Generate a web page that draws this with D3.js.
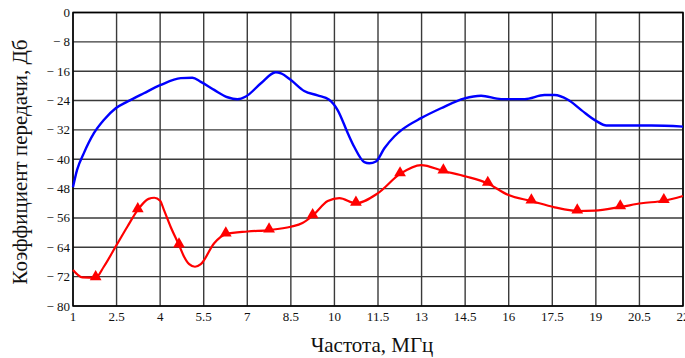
<!DOCTYPE html>
<html>
<head>
<meta charset="utf-8">
<script src="https://cdn.jsdelivr.net/npm/d3@7"></script>
<style>
  html, body { margin: 0; padding: 0; background: #fff; }
  svg { display: block; }
</style>
</head>
<body>
<svg id="chart" width="685" height="358"></svg>
<script>
// Frequency ticks (MHz) and gain ticks (dB)
const xTicks = [1, 2.5, 4, 5.5, 7, 8.5, 10, 11.5, 13, 14.5, 16, 17.5, 19, 20.5, 22];
const yTicks = [0, -8, -16, -24, -32, -40, -48, -56, -64, -72, -80];

// Upper curve (blue)
const blueFreq = [1.0, 1.14, 1.37, 1.72, 2.06, 2.47, 2.87, 3.44, 4.02, 4.71, 5.11, 5.40, 5.86, 6.32, 6.66, 6.95, 7.47, 7.98, 8.16, 8.5, 8.96, 9.42, 9.82, 10.11, 10.46, 10.68, 11.03, 11.2, 11.43, 11.72, 12.06, 12.35, 12.98, 13.67, 14.48, 15.05, 15.74, 16.55, 17.23, 17.58, 18.04, 18.5, 19.02, 19.36, 20.91, 22.0];
const blueGain = [-47.6, -42.9, -38.4, -32.9, -29.3, -26.1, -24.3, -22.0, -19.75, -17.9, -17.8, -18.9, -21.1, -23.1, -23.65, -22.9, -19.3, -16.3, -16.6, -18.4, -21.4, -22.6, -23.8, -26.6, -32.9, -36.6, -40.8, -41.1, -40.6, -37.0, -33.8, -31.8, -28.8, -26.1, -23.4, -22.7, -23.6, -23.6, -22.5, -22.5, -23.8, -26.6, -29.6, -30.8, -30.8, -31.1];

// Lower curve (red)
const redFreq = [1.0, 1.32, 1.78, 2.06, 2.47, 2.87, 3.23, 3.6, 3.8, 4.0, 4.13, 4.36, 4.65, 4.82, 5.0, 5.2, 5.40, 5.86, 6.26, 7.01, 7.75, 8.5, 8.9, 9.25, 9.77, 10.17, 10.74, 11.49, 12.26, 12.98, 13.75, 14.53, 15.28, 15.97, 16.78, 17.58, 18.36, 18.96, 19.84, 20.57, 21.34, 22.0];
const redGain = [-70.2, -72.2, -72.3, -69.3, -63.8, -58.4, -53.8, -50.8, -50.5, -51.3, -53.8, -58.4, -63.4, -66.5, -68.6, -69.3, -68.6, -62.9, -60.4, -59.7, -59.3, -58.4, -57.4, -55.4, -51.4, -50.6, -52.0, -49.3, -44.0, -41.6, -43.2, -44.7, -46.6, -49.7, -51.4, -53.1, -54.1, -54.0, -53.0, -52.0, -51.3, -50.0];

// Triangle markers placed on the red curve
const markerFreq = [1.78, 3.23, 4.65, 6.26, 7.75, 9.25, 10.74, 12.26, 13.75, 15.28, 16.78, 18.36, 19.84, 21.34];
const markerGain = [-72.3, -53.8, -63.4, -60.4, -59.3, -55.4, -52.0, -44.0, -43.2, -46.6, -51.4, -54.1, -53.0, -51.3];

const svg = d3.select("#chart");
const plotLeft = 73, plotRight = 683, plotTop = 12.5, plotBottom = 306;

const x = d3.scaleLinear().domain([1, 22]).range([plotLeft, plotRight]);
const y = d3.scaleLinear().domain([-80, 0]).range([plotBottom, plotTop]);

const serif = "'Liberation Serif', 'Times New Roman', serif";

// Grid
const grid = svg.append("g");
grid.selectAll("line.v").data(xTicks).join("line")
  .attr("x1", d => x(d)).attr("x2", d => x(d))
  .attr("y1", plotTop).attr("y2", plotBottom)
  .attr("stroke", "#3a3a3a").attr("stroke-width", 1.4);
grid.selectAll("line.h").data(yTicks).join("line")
  .attr("x1", plotLeft).attr("x2", plotRight)
  .attr("y1", d => y(d)).attr("y2", d => y(d))
  .attr("stroke", "#3a3a3a").attr("stroke-width", 1.4);

// Frame
svg.append("rect")
  .attr("x", plotLeft).attr("y", plotTop)
  .attr("width", plotRight - plotLeft).attr("height", plotBottom - plotTop)
  .attr("fill", "none").attr("stroke", "#000").attr("stroke-width", 1.5);

// Axes labels
const fmtY = d => d === 0 ? "0" : "\u2212 " + Math.abs(d);
svg.append("g").selectAll("text").data(yTicks).join("text")
  .attr("x", plotLeft - 3).attr("y", d => y(d) + 4.5)
  .attr("text-anchor", "end")
  .attr("font-family", serif).attr("font-size", 13)
  .attr("fill", "#111")
  .text(fmtY);

svg.append("g").selectAll("text").data(xTicks).join("text")
  .attr("x", d => x(d)).attr("y", 321)
  .attr("text-anchor", "middle")
  .attr("font-family", serif).attr("font-size", 13)
  .attr("fill", "#111")
  .text(d => String(d));

// Titles
svg.append("text")
  .attr("x", 372).attr("y", 352)
  .attr("text-anchor", "middle")
  .attr("font-family", serif).attr("font-size", 21)
  .attr("fill", "#111")
  .text("Частота, МГц");

svg.append("text")
  .attr("transform", "translate(27,162) rotate(-90)")
  .attr("text-anchor", "middle")
  .attr("font-family", serif).attr("font-size", 21)
  .attr("fill", "#111")
  .text("Коэффициент передачи, Дб");

// Curves
const line = d3.line().x(d => x(d[0])).y(d => y(d[1])).curve(d3.curveMonotoneX);

svg.append("path")
  .datum(blueFreq.map((f, i) => [f, blueGain[i]]))
  .attr("d", line)
  .attr("fill", "none").attr("stroke", "#0000ff").attr("stroke-width", 2.4)
  .attr("stroke-linejoin", "round");

svg.append("path")
  .datum(redFreq.map((f, i) => [f, redGain[i]]))
  .attr("d", line)
  .attr("fill", "none").attr("stroke", "#ff0000").attr("stroke-width", 2.2)
  .attr("stroke-linejoin", "round");

const tri = d3.symbol().type(d3.symbolTriangle).size(60);
svg.append("g").selectAll("path").data(markerFreq.map((f, i) => [f, markerGain[i]])).join("path")
  .attr("transform", d => `translate(${x(d[0])},${y(d[1]) - 1})`)
  .attr("d", tri)
  .attr("fill", "#ff0000");
</script>
</body>
</html>
